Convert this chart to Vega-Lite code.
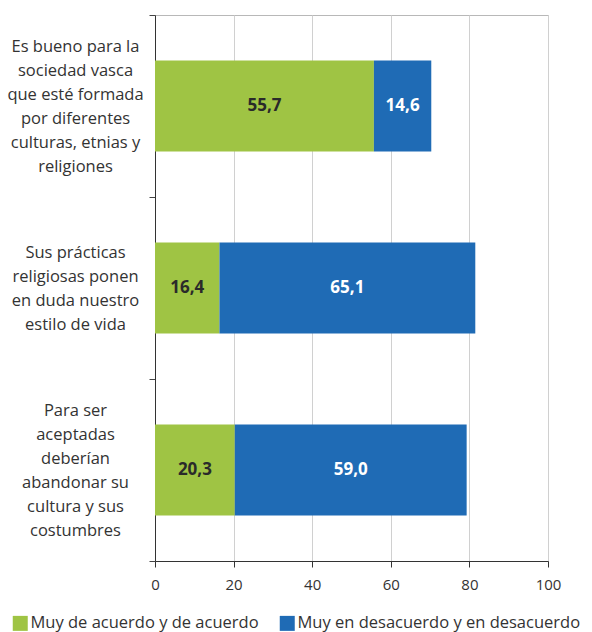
{
  "$schema": "https://vega.github.io/schema/vega-lite/v6.json",
  "width": 393,
  "height": 546,
  "autosize": {"type": "none"},
  "padding": {"left": 155, "top": 15, "right": 44, "bottom": 71},
  "background": "white",
  "config": {
    "view": {"stroke": "#b8b8b8", "strokeWidth": 1},
    "font": "Open Sans"
  },
  "data": {
    "values": [
      {"cat": "Es bueno para la|sociedad vasca|que esté formada|por diferentes|culturas, etnias y|religiones", "serie": "Muy de acuerdo y de acuerdo", "o": 1, "value": 55.7, "label": "55,7"},
      {"cat": "Es bueno para la|sociedad vasca|que esté formada|por diferentes|culturas, etnias y|religiones", "serie": "Muy en desacuerdo y en desacuerdo", "o": 2, "value": 14.6, "label": "14,6"},
      {"cat": " |Sus prácticas|religiosas ponen|en duda nuestro|estilo de vida| ", "serie": "Muy de acuerdo y de acuerdo", "o": 1, "value": 16.4, "label": "16,4"},
      {"cat": " |Sus prácticas|religiosas ponen|en duda nuestro|estilo de vida| ", "serie": "Muy en desacuerdo y en desacuerdo", "o": 2, "value": 65.1, "label": "65,1"},
      {"cat": "Para ser|aceptadas|deberían|abandonar su|cultura y sus|costumbres", "serie": "Muy de acuerdo y de acuerdo", "o": 1, "value": 20.3, "label": "20,3"},
      {"cat": "Para ser|aceptadas|deberían|abandonar su|cultura y sus|costumbres", "serie": "Muy en desacuerdo y en desacuerdo", "o": 2, "value": 59.0, "label": "59,0"}
    ]
  },
  "encoding": {
    "y": {
      "field": "cat",
      "type": "nominal",
      "sort": null,
      "scale": {"paddingInner": 0, "paddingOuter": 0},
      "axis": {
        "title": null,
        "tickBand": "extent",
        "grid": false,
        "domainColor": "#333333",
        "tickColor": "#444444",
        "tickSize": 6,
        "labelExpr": "split(datum.label, '|')",
        "labelAlign": "center",
        "labelBaseline": "middle",
        "labelPadding": 74,
        "labelLineHeight": 24,
        "labelOffset": -60,
        "labelFontSize": 16.5,
        "labelColor": "#333333",
        "labelLimit": 0
      }
    }
  },
  "layer": [
    {
      "mark": {"type": "bar", "height": {"band": 0.5}},
      "encoding": {
        "x": {
          "field": "value",
          "type": "quantitative",
          "stack": "zero",
          "scale": {"domain": [0, 100], "nice": false},
          "axis": {
            "title": null,
            "values": [0, 20, 40, 60, 80, 100],
            "grid": true,
            "gridColor": "#d0d0d0",
            "domainColor": "#333333",
            "tickColor": "#333333",
            "tickSize": 6,
            "labelFontSize": 15,
            "labelColor": "#333333",
            "labelPadding": 10,
            "labelFlush": false
          }
        },
        "order": {"field": "o", "type": "quantitative"},
        "color": {
          "field": "serie",
          "type": "nominal",
          "scale": {
            "domain": ["Muy de acuerdo y de acuerdo", "Muy en desacuerdo y en desacuerdo"],
            "range": ["#9fc444", "#1f6bb5"]
          },
          "legend": {
            "title": null,
            "orient": "none",
            "direction": "horizontal",
            "legendX": -143,
            "legendY": 600,
            "symbolType": "square",
            "symbolSize": 225,
            "symbolStrokeWidth": 0,
            "labelFontSize": 16.5,
            "labelColor": "#333333",
            "labelOffset": 2,
            "columnPadding": 20,
            "labelLimit": 0
          }
        }
      }
    },
    {
      "mark": {"type": "text", "fontWeight": "bold", "fontSize": 17, "align": "center", "baseline": "middle"},
      "encoding": {
        "x": {"field": "value", "type": "quantitative", "stack": "zero", "bandPosition": 0.5},
        "order": {"field": "o", "type": "quantitative"},
        "text": {"field": "label"},
        "color": {
          "condition": {"test": "datum.o == 1", "value": "#2a2a2a"},
          "value": "white"
        }
      }
    }
  ]
}
